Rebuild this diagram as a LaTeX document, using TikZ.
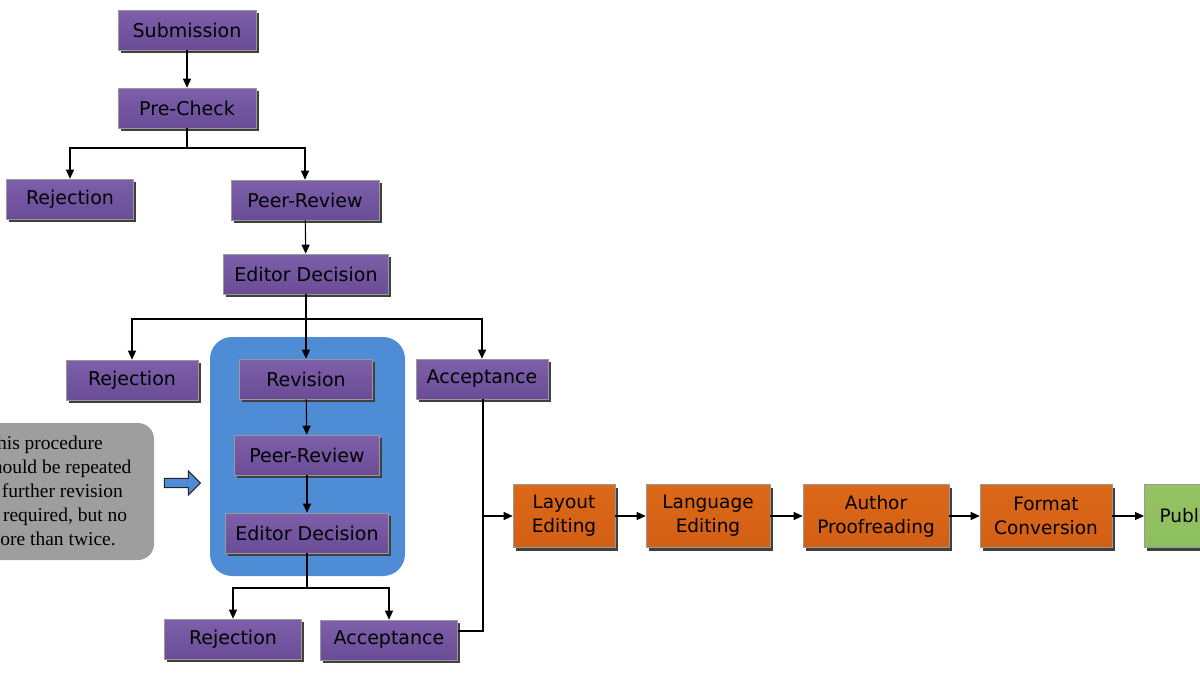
\documentclass[tikz,border=0pt]{standalone}
\usepackage{fontspec}
\setmainfont{DejaVu Sans}
\newfontfamily\notefont{Liberation Serif}
\usetikzlibrary{shadows,arrows.meta,shapes.arrows}
\begin{document}
\begin{tikzpicture}[x=1pt,y=-1pt,
 box/.style={draw=black!40,line width=0.6pt,minimum height=40pt,inner sep=0pt,font=\fontsize{19}{21}\selectfont,
   drop shadow={shadow xshift=2.5pt,shadow yshift=-3pt,fill=black!75,opacity=1}},
 pbox/.style={box, top color={rgb,255:red,125;green,95;blue,170}, middle color={rgb,255:red,200;green,175;blue,230}, bottom color={rgb,255:red,105;green,75;blue,150}},
 obox/.style={box,minimum height=63pt,align=center,font=\fontsize{18.5}{24}\selectfont,
   top color={rgb,255:red,220;green,105;blue,25}, middle color={rgb,255:red,248;green,170;blue,100}, bottom color={rgb,255:red,210;green,95;blue,20}},
 gbox/.style={obox,top color={rgb,255:red,150;green,195;blue,100}, middle color={rgb,255:red,205;green,230;blue,160}, bottom color={rgb,255:red,140;green,190;blue,95}},
 arr/.style={-{Triangle[length=9pt,width=8pt]},line width=1.1pt},
 ln/.style={line width=1.1pt}]
\useasboundingbox (0,0) rectangle (1200,675);
\clip (0,0) rectangle (1200,675);
\fill[rounded corners=22pt,fill={rgb,255:red,78;green,140;blue,214}] (210,337) rectangle (405,576);
\fill[rounded corners=16pt,fill=black!38] (-20,423) rectangle (154,560);
\node[font=\notefont\fontsize{19.5}{24}\selectfont,align=left,anchor=west,inner sep=0pt] (note) at (-15,491) {This procedure\\should be repeated\\if further revision\\is required, but no\\more than twice.};
\node[single arrow,draw=black!85,line width=1pt,fill={rgb,255:red,78;green,140;blue,214},minimum height=36pt,minimum width=24pt,single arrow head extend=4pt,single arrow head indent=0pt,inner sep=2pt] (barr) at (180,483) {};
\node[pbox,minimum width=138pt] (sub) at (187,30) {Submission};
\node[pbox,minimum width=138pt] (pre) at (187,108) {Pre-Check};
\node[pbox,minimum width=127pt] (rej1) at (70,199) {Rejection};
\node[pbox,minimum width=148pt] (pr1) at (305,200) {Peer-Review};
\node[pbox,minimum width=165pt] (ed1) at (306,274) {Editor Decision};
\node[pbox,minimum width=132pt] (rej2) at (132,380) {Rejection};
\node[pbox,minimum width=133pt] (rev) at (306,379) {Revision};
\node[pbox,minimum width=132pt] (acc1) at (482,379) {Acceptance};
\node[pbox,minimum width=145pt] (pr2) at (307,455) {Peer-Review};
\node[pbox,minimum width=163pt] (ed2) at (307,533) {Editor Decision};
\node[pbox,minimum width=137pt] (rej3) at (233,639) {Rejection};
\node[pbox,minimum width=137pt] (acc2) at (389,640) {Acceptance};
\node[obox,minimum width=102pt] (lay) at (564,516) {Layout\\Editing};
\node[obox,minimum width=124pt] (lang) at (708,516) {Language\\Editing};
\node[obox,minimum width=146pt] (auth) at (876,516) {Author\\Proofreading};
\node[obox,minimum width=132pt] (fmt) at (1046,516) {Format\\Conversion};
\node[gbox,minimum width=130pt,anchor=west] (pub) at (1144,516) {\hspace*{2pt}Publication};
\draw[arr] (sub) -- (pre);
\coordinate (j1) at (187,148);
\draw[ln] (pre) -- (j1);
\draw[arr] (j1) -| (rej1.north);
\draw[arr] (j1) -| (pr1.north);
\draw[arr] (pr1) -- (ed1);
\coordinate (j2) at (306,319);
\draw[ln] (ed1) -- (j2);
\draw[arr] (j2) -| (rej2.north);
\draw[arr] (j2) -| (acc1.north);
\draw[arr] (ed1) -- (rev);
\draw[arr] (rev) -- (pr2);
\draw[arr] (pr2) -- (ed2);
\coordinate (j3) at (307,588);
\draw[ln] (ed2) -- (j3);
\draw[arr] (j3) -| (rej3.north);
\draw[arr] (j3) -| (acc2.north);
\coordinate (a1) at (483,516);
\coordinate (a2) at (483,631);
\draw[ln] (acc1.south -| a1) -- (a2) -- (a2 -| acc2.east);
\draw[arr] (a1) -- (lay.west);
\draw[arr] (lay) -- (lang);
\draw[arr] (lang) -- (auth);
\draw[arr] (auth) -- (fmt);
\draw[arr] (fmt) -- (pub.west);
\end{tikzpicture}
\end{document}
